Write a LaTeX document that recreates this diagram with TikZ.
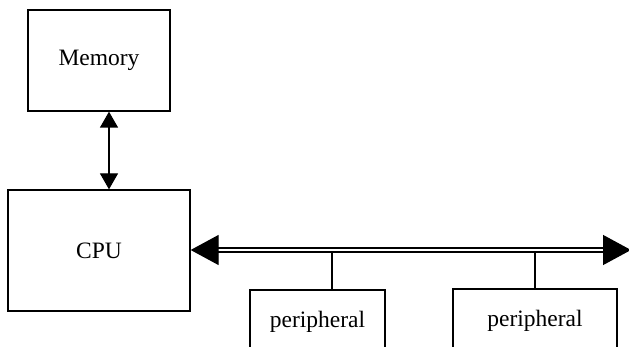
\documentclass[tikz,border=0pt]{standalone}
\usepackage{fontspec}
\setmainfont{Liberation Serif}
\usetikzlibrary{arrows.meta}
\tikzset{
  blk/.style={draw, line width=1.3pt, inner sep=0pt, font=\fontsize{23.5}{27}\selectfont},
  link/.style={line width=1.3pt},
  bus/.style={line width=1.3pt, double distance=2.6pt, {Triangle[length=28pt,width=30pt]}-{Triangle[length=28pt,width=30pt]}},
  memarrow/.style={line width=1.3pt, {Triangle[length=16pt,width=18pt]}-{Triangle[length=16pt,width=18pt]}}
}
\begin{document}
\begin{tikzpicture}[x=1pt,y=-1pt]
\useasboundingbox (0,0) rectangle (629,347);
\clip (0,0) rectangle (629,347);
\node[blk, minimum width=142pt, minimum height=101pt] (mem) at (99,60.5) {Memory};
\node[blk, minimum width=182pt, minimum height=121pt] (cpu) at (99,250.5) {CPU};
\node[blk, minimum width=135pt, minimum height=64pt] (p1) at (317.5,322) {peripheral};
\node[blk, minimum width=164pt, minimum height=64pt] (p2) at (535,321) {peripheral};
\coordinate (busL) at (cpu.east |- 0,250);
\coordinate (busR) at (631,250);
\draw[bus] (busL) -- (busR);
\draw[link] (p1.north -| 332,0) -- (332,251.5);
\draw[link] (p2.north) -- (p2.north |- 0,251.5);
\draw[memarrow] (mem.south -| 109,0) -- (cpu.north -| 109,0);
\end{tikzpicture}
\end{document}
